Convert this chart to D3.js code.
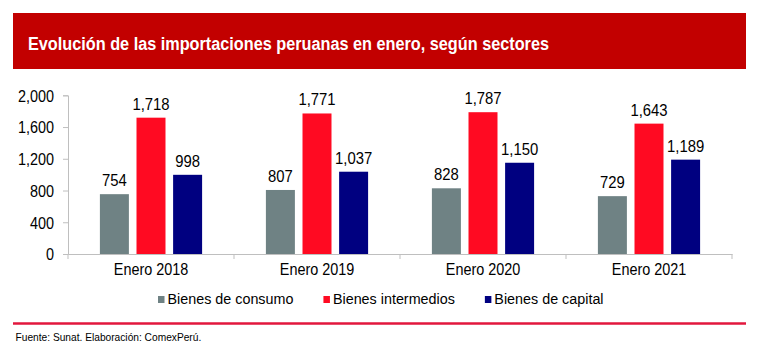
<!DOCTYPE html>
<html><head><meta charset="utf-8">
<script src="https://cdn.jsdelivr.net/npm/d3@7"></script>
<style>html,body{margin:0;padding:0;background:#fff;}svg{display:block;font-family:"Liberation Sans",Arial,sans-serif;}</style>
</head><body><svg id="c" width="761" height="357"></svg>
<script>
const title = "Evolución  de las importaciones  peruanas en enero, según sectores";
const source = "Fuente: Sunat. Elaboración: ComexPerú.";
const categories = ["Enero 2018","Enero 2019","Enero 2020","Enero 2021"];
const seriesNames = ["Bienes de consumo","Bienes intermedios","Bienes de capital"];
const consumo = [754, 807, 828, 729];
const intermedios = [1718, 1771, 1787, 1643];
const capital = [998, 1037, 1150, 1189];
const yTicks = [0, 400, 800, 1200, 1600, 2000];
const colors = ["#6f8284", "#ff0a22", "#000080"];

const seriesValues = [consumo, intermedios, capital];
const svg = d3.select("#c");
const fmt = d3.format(",");
function squeeze(sel, f){ sel.each(function(){ const l=this.getComputedTextLength(); d3.select(this).attr("textLength", l*f).attr("lengthAdjust","spacingAndGlyphs"); }); }

// header
svg.append("rect").attr("x",13).attr("y",13).attr("width",733).attr("height",56).attr("fill","#c20000");
const t = svg.append("text").attr("x",28).attr("y",50).attr("fill","#fff").attr("font-weight","bold").attr("font-size",17.5).text(title);
t.attr("textLength",521).attr("lengthAdjust","spacingAndGlyphs");

const x0 = d3.scaleBand().domain(categories).range([68,732]);
const bw = x0.bandwidth();
const x1 = d3.scaleBand().domain(seriesNames).range([bw/2-51.1, bw/2+51.1]).paddingInner(0.208);
const y = d3.scaleLinear().domain([0,2000]).range([254,95.3]);

// y axis
const ya = svg.append("g").attr("transform","translate(68,0)").call(d3.axisLeft(y).tickValues(yTicks).tickFormat(fmt).tickSize(5).tickPadding(9));
ya.select(".domain").attr("stroke","#bfbfbf");
ya.selectAll(".tick line").attr("stroke","#bfbfbf");
ya.selectAll(".tick text").attr("font-size",16).attr("fill","#000").attr("font-family","Liberation Sans, Arial").attr("dy","0.36em").call(squeeze,0.9);

// x axis
const xa = svg.append("g").attr("transform","translate(0,254)").call(d3.axisBottom(x0).tickSize(0).tickPadding(8));
xa.select(".domain").attr("stroke","#bfbfbf");
xa.selectAll(".tick text").attr("font-size",16).attr("fill","#000").attr("font-family","Liberation Sans, Arial").attr("dy","0.82em").call(squeeze,0.9);
// category separators
svg.append("g").selectAll("line").data(categories.concat(["__end"])).join("line")
  .attr("x1",(d,i)=> i<categories.length ? x0(d) : x0(categories[categories.length-1])+bw)
  .attr("x2",(d,i)=> i<categories.length ? x0(d) : x0(categories[categories.length-1])+bw)
  .attr("y1",254).attr("y2",259).attr("stroke","#bfbfbf");

// bars
const g = svg.append("g").selectAll("g").data(categories).join("g").attr("transform",d=>`translate(${x0(d)},0)`);
g.selectAll("rect").data((d,i)=>seriesNames.map((s,j)=>({s,v:seriesValues[j][i],j}))).join("rect")
  .attr("x",d=>x1(d.s)).attr("width",x1.bandwidth()).attr("y",d=>y(d.v)).attr("height",d=>254-y(d.v)).attr("fill",d=>colors[d.j]);
g.selectAll("text").data((d,i)=>seriesNames.map((s,j)=>({s,v:seriesValues[j][i],j}))).join("text")
  .attr("x",d=>x1(d.s)+x1.bandwidth()/2).attr("y",d=>y(d.v)-8).attr("text-anchor","middle").attr("font-size",16.5).attr("fill","#000")
  .text(d=>fmt(d.v)).call(squeeze,0.9);

// legend
let lx = 158;
seriesNames.forEach((s,j)=>{
  svg.append("rect").attr("x",lx).attr("y",296).attr("width",6.5).attr("height",7).attr("fill",colors[j]);
  const tt = svg.append("text").attr("x",lx+9.5).attr("y",304).attr("font-size",15.5).attr("fill","#000").text(s);
  squeeze(tt,0.925);
  lx += 9.5 + (+tt.attr("textLength")) + 30;
});

// footer
svg.append("line").attr("x1",13).attr("x2",746).attr("y1",323.5).attr("y2",323.5).attr("stroke","#e2173d").attr("stroke-width",2.4);
svg.append("text").attr("x",15.5).attr("y",341).attr("font-size",10.2).attr("fill","#000").text(source);
</script></body></html>
